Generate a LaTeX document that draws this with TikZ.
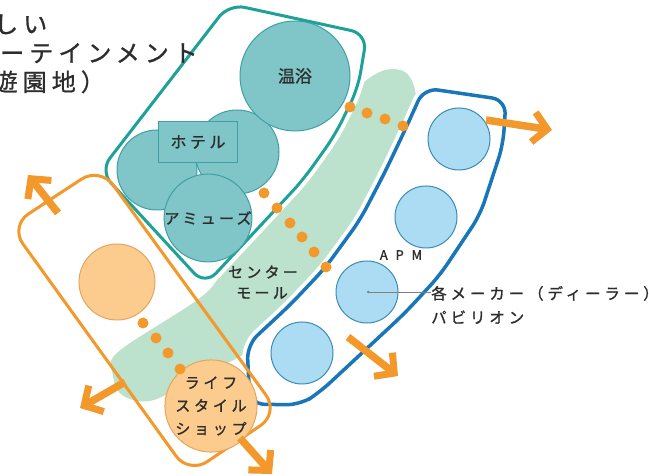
\documentclass[tikz,border=0pt]{standalone}
\usepackage{fontspec}
\setmainfont{Noto Sans CJK JP}
\usetikzlibrary{arrows.meta}
\definecolor{tealline}{RGB}{30,162,152}
\definecolor{tealfill}{RGB}{128,198,200}
\definecolor{tealdark}{RGB}{62,160,165}
\definecolor{blueline}{RGB}{25,118,185}
\definecolor{bluefill}{RGB}{172,220,243}
\definecolor{bluedark}{RGB}{60,140,180}
\definecolor{bandcol}{RGB}{188,225,204}
\definecolor{orng}{RGB}{243,152,42}
\definecolor{ofill}{RGB}{252,204,142}
\definecolor{oline}{RGB}{228,165,95}
\definecolor{txt}{RGB}{45,45,45}
\begin{document}
\begin{tikzpicture}[x=1pt,y=-1pt,
  tcirc/.style={circle, draw=tealdark, fill=tealfill, line width=1pt, inner sep=0},
  bcirc/.style={circle, draw=bluedark, fill=bluefill, line width=1pt, inner sep=0, minimum size=62pt},
  ocirc/.style={circle, draw=oline, fill=ofill, line width=1pt, inner sep=0},
  lab/.style={text=txt, inner sep=0, font=\fontsize{15}{22}\selectfont\addfontfeatures{LetterSpace=22,FakeBold=1.2}},
  ttl/.style={text=txt, inner sep=0, anchor=base west, font=\fontsize{24}{29}\selectfont\addfontfeatures{LetterSpace=21,FakeBold=1}},
  odot/.style={circle, fill=orng, inner sep=0, minimum size=11pt},
  oarr/.style={draw=orng, line width=7.5pt, -{Straight Barb[length=14pt,width=30pt,line width=7pt]}},
  tbox/.style={draw=tealline, line width=3pt, fill=white, rounded corners=16pt, preaction={draw=white, line width=11pt}},
  bbox/.style={draw=blueline, line width=3.5pt, fill=white, rounded corners=14pt, preaction={draw=white, line width=11pt}},
  obox/.style={draw=orng, line width=3pt, rounded corners=22pt}]
\useasboundingbox (0,0) rectangle (649,476);
\clip (0,0) rectangle (649,476);
\fill[white] (0,0) rectangle (649,476);

% central mall band
\fill[bandcol] plot[smooth cycle, tension=0.55] coordinates {(118,352) (200,298) (226,268) (282,203) (318,152) (344,110) (362,84) (385,70) (405,72) (415,90) (416,125) (398,172) (372,222) (338,270) (300,310) (258,346) (190,382) (150,401) (122,395) (113,375)};

% teal box
\path[tbox] (229,4) -- (367,34) -- (358,88) -- (335,135) -- (303,180) -- (205,285) -- (100,171) -- cycle;
\node[tcirc, minimum size=84pt] (hotR) at (237,152) {};
\node[tcirc, minimum size=80pt] (hotL) at (157,170) {};
\node[tcirc, minimum size=110pt, font=\fontsize{17}{17}\selectfont\addfontfeatures{FakeBold=1.2}, text=txt] (onsen) at (295,76) {温浴};
\node[tcirc, minimum size=76pt, lab] (amuse) at (208,218) {アミューズ};
\node[draw=tealdark, fill=tealfill, line width=1.2pt, minimum width=79pt, minimum height=41pt, inner sep=0, text=txt,
      font=\fontsize{16}{16}\selectfont\addfontfeatures{LetterSpace=22,FakeBold=1.2}] (hotel) at (198,142) {ホテル};

% blue box
\path[bbox] (424,88) -- (506,100) -- (503,145) -- (480,215) -- (440,275) -- (405,313) -- (320,392) -- (300,405) -- (250,404) -- (247,345) -- (290,305) -- (325,268) -- (360,220) -- (385,172) -- (405,130) -- cycle;
\node[bcirc] (b1) at (459,139) {};
\node[bcirc] (b2) at (426,217) {};
\node[bcirc] (b3) at (367,292) {};
\node[bcirc] (b4) at (302,353) {};

% orange box
\path[obox] (10,226) -- (100,167) -- (279,413) -- (189,474) -- cycle;
\node[ocirc, minimum size=76pt] (shop1) at (117,282) {};
\node[ocirc, minimum size=62pt, lab, align=center, font=\fontsize{15}{23}\selectfont\addfontfeatures{LetterSpace=25,FakeBold=1.2}] (shop2) at (211,406) {ライフ\\スタイル\\ショップ};

% dots
\foreach \p [count=\i] in {(350,107),(367,113),(385,119),(403,126)}
  \node[odot] (da\i) at \p {};
\foreach \p [count=\i] in {(264,193),(277,208),(290,223),(302,237),(314,252),(326,267)}
  \node[odot] (db\i) at \p {};
\foreach \p [count=\i] in {(143,323),(156,338),(168,353),(180,369)}
  \node[odot] (dc\i) at \p {};

% labels
\node[lab] (center) at (263,272) {センター};
\node[lab] (mall) at (262,293) {モール};
\node[text=txt, inner sep=0, font=\fontsize{13}{13}\selectfont\addfontfeatures{LetterSpace=60,FakeBold=1.2}] (apm) at (401,255) {APM};
\node[lab, anchor=west, align=left, font=\fontsize{15.5}{24}\selectfont\addfontfeatures{LetterSpace=25,FakeBold=1.2}] (maker) at (431,305) {各メーカー（ディーラー）\\パビリオン};
\draw[gray, line width=0.6pt, {Circle[length=2.5pt]}-] (b3.center) -- (b3.center -| maker.west);

% title (drawn on top)
\node[ttl] (t1) at (-35,33) {新しい};
\node[ttl] (t2) at (-87,62) {エンターテインメント};
\node[ttl] (t3) at (-35.5,91) {（遊園地）};

% arrows
\coordinate (a1s) at (486,120); \coordinate (a1e) at (552,130);
\coordinate (a2s) at (348,337); \coordinate (a2e) at (398,376);
\coordinate (a3s) at (58,213);  \coordinate (a3e) at (28,175);
\coordinate (a4s) at (125,382); \coordinate (a4e) at (80,408);
\coordinate (a5s) at (240,438); \coordinate (a5e) at (272,474);
\draw[oarr] (a1s) -- (a1e);
\draw[oarr] (a2s) -- (a2e);
\draw[oarr] (a3s) -- (a3e);
\draw[oarr] (a4s) -- (a4e);
\draw[oarr] (a5s) -- (a5e);
\end{tikzpicture}
\end{document}
